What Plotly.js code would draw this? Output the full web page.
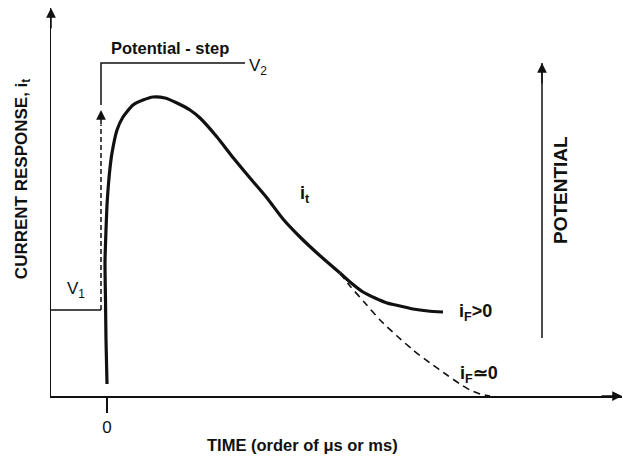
<!DOCTYPE html>
<html>
<head>
<meta charset="utf-8">
<script src="https://cdn.plot.ly/plotly-3.0.1.min.js"></script>
<style>html,body{margin:0;padding:0;background:#fff;}#chart{width:623px;height:457px;}</style>
</head>
<body>
<div id="chart"></div>
<script>
// Time (arbitrary units, 0 = step) and current response (arbitrary units)
const timeMain = [0, -1, -1.5, -2, -1, 0, 1, 3, 5, 10, 16, 26, 36, 46, 58, 70, 83, 93, 110, 126, 143, 160, 176, 193, 210, 226, 233];
const currentMain = [12, 56, 96, 134, 166, 191, 206, 228, 243, 266, 279, 291, 296, 299, 298, 293, 286, 278, 259, 238.5, 218, 198, 177, 159, 143, 129, 123];
const timeFaradaic = [233, 243, 256, 268, 280, 293, 306, 321, 336];
const currentFaradaic = [123, 114, 104, 98, 93, 90, 87, 85, 84];
const timeNoFaradaic = [233, 243, 258, 273, 290, 306, 323, 340, 353, 363, 373, 383];
const currentNoFaradaic = [123, 110, 93, 76, 60, 46, 33, 21, 12, 6, 2, 0];
// Potential step (V1 -> V2), drawn on the same time base
const stepTime = -6;
const timeV1 = [-56, -6];
const levelV1 = [86, 86];
const timeV2 = [-6, -6, 138];
const levelV2 = [291, 333, 333];
const stepDashed = [86, 271];
const stepArrowTip = 286;
const potentialAxisTime = 435;
const potentialAxisRange = [58, 333];
const xRange = [-56, 515];
const yRange = [0, 388];
const tickVals = [0];
const tickText = ['0'];

const FONT = 'Liberation Sans, Arial, Helvetica, sans-serif';
const black = '#111';

const traces = [
  {x: timeMain, y: currentMain, mode: 'lines', line: {color: black, width: 3.2, shape: 'spline', smoothing: 0.6}, cliponaxis: false},
  {x: timeFaradaic, y: currentFaradaic, mode: 'lines', line: {color: black, width: 3.2, shape: 'spline', smoothing: 0.6}, cliponaxis: false},
  {x: timeNoFaradaic, y: currentNoFaradaic, mode: 'lines', line: {color: black, width: 1.6, dash: '7px,5px', shape: 'spline', smoothing: 0.6}, cliponaxis: false},
  {x: timeV1, y: levelV1, mode: 'lines', line: {color: black, width: 1.5}, cliponaxis: false},
  {x: [stepTime, stepTime], y: stepDashed, mode: 'lines', line: {color: black, width: 1.5, dash: '5px,3px'}, cliponaxis: false},
  {x: timeV2, y: levelV2, mode: 'lines', line: {color: black, width: 1.5}, cliponaxis: false},
  {x: [potentialAxisTime, potentialAxisTime], y: potentialAxisRange, mode: 'lines', line: {color: black, width: 1.5}, cliponaxis: false}
];

function arrowHead(x, y, ax, ay) {
  return {x: x, y: y, xref: 'x', yref: 'y', ax: ax, ay: ay, text: '', showarrow: true,
          arrowhead: 2, arrowsize: 1.3, arrowwidth: 1.5, arrowcolor: black};
}
function label(x, y, text, size, opts) {
  return Object.assign({x: x, y: y, xref: 'x', yref: 'y', text: text, showarrow: false,
          xanchor: 'center', yanchor: 'middle',
          font: {family: FONT, size: size, color: black}}, opts || {});
}

const annotations = [
  arrowHead(xRange[0], yRange[1], 0, 22),
  arrowHead(xRange[1], 0, -22, 0),
  arrowHead(stepTime, stepArrowTip, 0, 16),
  arrowHead(potentialAxisTime, potentialAxisRange[1], 0, 22),
  label(63, 348, '<b>Potential - step</b>', 16.5),
  label(140, 329, 'V<sub>2</sub>', 17, {xanchor: 'left'}),
  label(-42, 106, 'V<sub>1</sub>', 17, {xanchor: 'left'}),
  label(198, 202, '<b>i<sub>t</sub></b>', 18),
  label(350, 84, '<b>i<sub>F</sub>&gt;0</b>', 18, {xanchor: 'left'}),
  label(351, 22, '<b>i<sub>F</sub>≃0</b>', 18, {xanchor: 'left'}),
  label(0.4413, -0.1263, '<b>TIME (order of μs or ms)</b>', 16.5, {xref: 'paper', yref: 'paper'}),
  label(-0.049, 0.559, '<b>CURRENT RESPONSE, i<sub>t</sub></b>', 17, {xref: 'paper', yref: 'paper', textangle: -90}),
  label(453, 206, '<b>POTENTIAL</b>', 19, {textangle: -90})
];

const layout = {
  width: 623, height: 457,
  margin: {l: 51, r: 1, t: 8, b: 61, pad: 0},
  paper_bgcolor: '#fff', plot_bgcolor: '#fff',
  showlegend: false,
  font: {family: FONT, color: black},
  xaxis: {range: xRange, showgrid: false, zeroline: false, showline: true, linecolor: black, linewidth: 1.5,
          tickvals: tickVals, ticktext: tickText, ticks: 'outside', ticklen: 15, tickwidth: 1.5, tickcolor: black,
          tickfont: {family: FONT, size: 17, color: black}, fixedrange: true},
  yaxis: {range: yRange, showgrid: false, zeroline: false, showline: true, linecolor: black, linewidth: 1.5,
          showticklabels: false, ticks: '', fixedrange: true},
  annotations: annotations
};

Plotly.newPlot('chart', traces, layout, {staticPlot: true, displayModeBar: false});
</script>
</body>
</html>
